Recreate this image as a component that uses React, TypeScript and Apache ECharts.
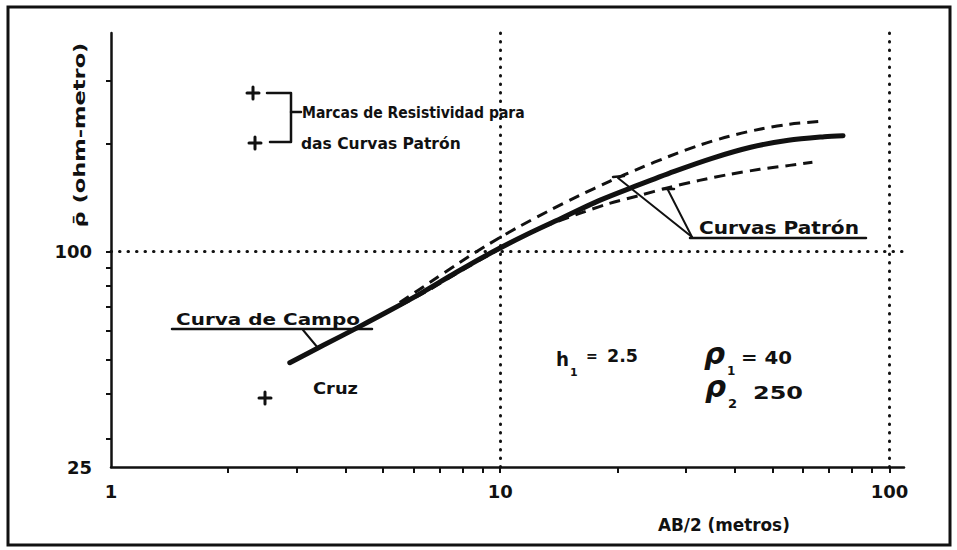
import React, { useEffect, useRef } from "react";
import * as echarts from "echarts";

// ---- data ----
const fieldAB = [2.88, 3.5, 4.3, 5.2, 6.3, 7.7, 9.5, 11.7, 14.5, 18, 22.5, 28, 35, 44, 55, 68, 76];
const fieldRho = [48.9, 54.6, 61.3, 68.4, 76.8, 87.4, 99.4, 111.6, 124.5, 139.0, 153.0, 167.5, 182.2, 195.6, 204.6, 209.3, 210.7];

const upperAB = [5.52, 6.59, 7.87, 9.4, 11.2, 13.4, 16.0, 19.1, 22.8, 27.2, 32.5, 38.8, 46.4, 55.4, 67.3];
const upperRho = [72.0, 81.9, 93.2, 105.3, 117.5, 130.3, 143.5, 157.1, 170.8, 184.6, 198.2, 210.0, 219.7, 226.9, 231.3];

const lowerAB = [5.52, 6.59, 7.87, 9.4, 11.2, 13.4, 16.0, 19.1, 22.8, 27.2, 32.5, 38.8, 46.4, 55.4, 63.4];
const lowerRho = [70.6, 78.3, 87.9, 98.1, 108.8, 119.1, 127.8, 136.3, 143.5, 151.1, 158.1, 164.3, 169.7, 174.1, 177.5];

const xTickValues = [2, 3, 4, 5, 6, 7, 8, 9, 10, 20, 30, 40, 50, 60, 70, 80, 90, 100];
const xLabelValues = [1, 10, 100];
const yTickValues = [30, 40, 50, 60, 70, 80, 90, 100, 200, 300];
const yLabelValues = [25, 100];
const gridAB = [10, 100];
const gridRho = [100];

const X_MIN = 1;
const X_MAX = 109;
const Y_MIN = 25;
const Y_MAX = 408;

const INK = "#111111";
const FONT = "'DejaVu Sans', 'Liberation Sans', sans-serif";

const lg = (v: number) => Math.log10(v);
const pairs = (xs: number[], ys: number[]) => xs.map((x, i) => [lg(x), lg(ys[i])]);

let ctx: CanvasRenderingContext2D | null = null;
function measure(text: string, size: number, style = "") {
  if (!ctx) ctx = document.createElement("canvas").getContext("2d");
  ctx!.font = `${style} bold ${size}px ${FONT}`;
  return ctx!.measureText(text).width || 1;
}

function txt(text: string, x: number, y: number, size: number, opts: any = {}) {
  const align = opts.align || "left";
  const style = opts.fontStyle || "";
  const scaleX = opts.width ? opts.width / measure(text, size, style) : 1;
  return {
    type: "text",
    x,
    y,
    scaleX,
    scaleY: opts.scaleY || 1,
    rotation: opts.rotation || 0,
    silent: true,
    style: {
      text,
      font: `${style} bold ${size}px ${FONT}`,
      fill: INK,
      align,
      textAlign: align,
      verticalAlign: "middle",
      textVerticalAlign: "middle",
    },
  };
}

function seg(pts: number[][], w = 2.5) {
  return {
    type: "polyline",
    silent: true,
    shape: { points: pts },
    style: { stroke: INK, lineWidth: w, fill: null, lineCap: "round", lineJoin: "round" },
  };
}

function plus(cx: number, cy: number, r = 6) {
  return [seg([[cx - r, cy], [cx + r, cy]], 3), seg([[cx, cy - r], [cx, cy + r]], 3)];
}

export default function App() {
  const ref = useRef<HTMLDivElement>(null);

  useEffect(() => {
    if (!ref.current) return;
    const chart = echarts.init(ref.current, null, { renderer: "svg" });

    const graphics: any[] = [
      {
        type: "rect",
        silent: true,
        shape: { x: 8, y: 7, width: 942, height: 538 },
        style: { fill: null, stroke: INK, lineWidth: 3 },
      },
      // bracket legend
      ...plus(253, 93),
      ...plus(255, 143),
      seg([[267, 93], [291, 93], [291, 142], [270, 142]], 2.5),
      seg([[291, 112], [301, 112]], 2.5),
      txt("Marcas de Resistividad para", 302, 113, 16, { width: 223 }),
      txt("das Curvas Patrón", 301, 143, 16, { width: 160 }),
      // Curva de Campo
      txt("Curva de Campo", 176, 319, 16, { width: 184 }),
      seg([[172, 329], [372, 329]], 2.5),
      seg([[303, 330], [318, 348]], 2),
      // Cruz
      txt("Cruz", 313, 388, 16, { width: 45 }),
      ...plus(265, 398),
      // Curvas Patrón
      txt("Curvas Patrón", 699, 228, 17, { width: 160 }),
      seg([[690, 238], [866, 238]], 2.5),
      seg([[692, 237], [618, 178]], 2),
      seg([[613, 177], [624, 176]], 2.5),
      seg([[692, 237], [668, 190]], 2),
      seg([[663, 189], [674, 189]], 2.5),
      // parameters
      txt("h", 556, 359, 20, { width: 13 }),
      txt("1", 570, 372, 11),
      txt("=", 586, 356, 14),
      txt("2.5", 607, 356, 17, { width: 31 }),
      txt("ρ", 704, 353, 30, { fontStyle: "italic", width: 21 }),
      txt("1", 727, 371, 12),
      txt("= 40", 741, 358, 17, { width: 51 }),
      txt("ρ", 705, 386, 30, { fontStyle: "italic", width: 21 }),
      txt("2", 728, 403, 13),
      txt("250", 753, 393, 17, { width: 50 }),
      // axis titles
      txt("AB/2 (metros)", 658, 525, 17, { width: 132 }),
      txt("ρ̄ (ohm-metro)", 80, 135, 16, { width: 185, rotation: Math.PI / 2, align: "center" }),
    ];

    const axisCommon = {
      type: "value",
      axisLine: { show: true, onZero: false, lineStyle: { color: INK, width: 2.5 } },
      splitLine: { show: false },
    };

    const curve = (name: string, xs: number[], ys: number[], lineStyle: any, z: number, extra: any = {}) => ({
      name,
      type: "line",
      data: pairs(xs, ys),
      smooth: 0.3,
      showSymbol: false,
      symbol: "none",
      lineStyle,
      z,
      ...extra,
    });

    chart.setOption({
      animation: false,
      backgroundColor: "#ffffff",
      grid: { left: 111, right: 53, top: 33, bottom: 83, containLabel: false },
      xAxis: {
        ...axisCommon,
        min: lg(X_MIN),
        max: lg(X_MAX),
        axisTick: {
          show: true,
          length: 6,
          customValues: xTickValues.map(lg),
          lineStyle: { color: INK, width: 2 },
        },
        axisLabel: {
          show: true,
          customValues: xLabelValues.map(lg),
          formatter: (v: number) => String(Math.round(Math.pow(10, v))),
          color: INK,
          fontFamily: FONT,
          fontWeight: "bold",
          fontSize: 18,
          margin: 15,
        },
      },
      yAxis: {
        ...axisCommon,
        min: lg(Y_MIN),
        max: lg(Y_MAX),
        axisTick: {
          show: true,
          length: 5,
          customValues: yTickValues.map(lg),
          lineStyle: { color: INK, width: 2 },
        },
        axisLabel: {
          show: true,
          customValues: yLabelValues.map(lg),
          formatter: (v: number) => String(Math.round(Math.pow(10, v))),
          color: INK,
          fontFamily: FONT,
          fontWeight: "bold",
          fontSize: 18,
          margin: 19,
        },
      },
      series: [
        curve("Curva de Campo", fieldAB, fieldRho, { color: INK, width: 5, cap: "round", join: "round" }, 3, {
          markLine: {
            silent: true,
            symbol: ["none", "none"],
            label: { show: false },
            lineStyle: { color: INK, width: 3, type: [0.5, 8], cap: "round" },
            data: [
              ...gridAB.map((v) => ({ xAxis: lg(v) })),
              ...gridRho.map((v) => ({ yAxis: lg(v) })),
            ],
          },
        }),
        curve("Curva Patrón superior", upperAB, upperRho, { color: INK, width: 3, type: [11, 7] }, 2),
        curve("Curva Patrón inferior", lowerAB, lowerRho, { color: INK, width: 3, type: [11, 7] }, 2),
      ],
      graphic: { elements: graphics },
    });

    return () => chart.dispose();
  }, []);

  return (
    <div
      ref={ref}
      style={{ position: "fixed", left: 0, top: 0, width: 957, height: 550, background: "#fff" }}
    />
  );
}
